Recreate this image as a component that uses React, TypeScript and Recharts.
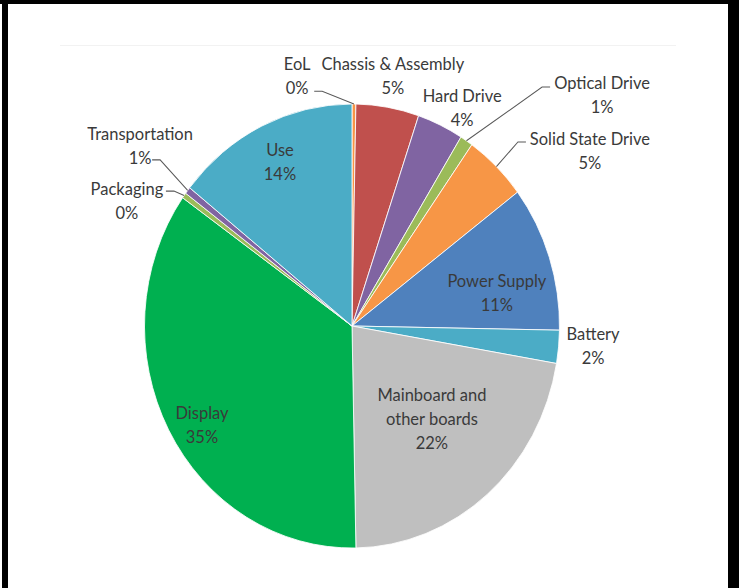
import React from 'react';
import { PieChart, Pie, Cell } from 'recharts';

// slices clockwise from 12 o'clock
const categories = [
  'EoL',
  'Chassis & Assembly',
  'Hard Drive',
  'Optical Drive',
  'Solid State Drive',
  'Power Supply',
  'Battery',
  'Mainboard and other boards',
  'Display',
  'Packaging',
  'Transportation',
  'Use',
];
const shares = [0.3, 4.9, 3.6, 1.0, 4.9, 10.6, 2.4, 22.0, 35.1, 0.4, 0.5, 14.3];
const pctLabels = ['0%', '5%', '4%', '1%', '5%', '11%', '2%', '22%', '35%', '0%', '1%', '14%'];
const labelLines = [
  ['EoL'],
  ['Chassis & Assembly'],
  ['Hard Drive'],
  ['Optical Drive'],
  ['Solid State Drive'],
  ['Power Supply'],
  ['Battery'],
  ['Mainboard and', 'other boards'],
  ['Display'],
  ['Packaging'],
  ['Transportation'],
  ['Use'],
];
const colors = [
  '#F79646', '#C0504D', '#8064A2', '#9BBB59', '#F79646', '#4F81BD',
  '#4BACC6', '#BFBFBF', '#00B050', '#9BBB59', '#8064A2', '#4BACC6',
];

const data = categories.map((name, i) => ({ name, value: shares[i] }));

// label layout: r = fraction of radius, shift = degrees added (clockwise) to the slice mid angle,
// leader = end point of the leader line relative to the label centre
type Place = { r: number; shift: number; leader?: [number, number] };
const placement: Place[] = [
  { r: 1.16, shift: -13.7, leader: [17, 15] },
  { r: 1.145, shift: 0 },
  { r: 1.12, shift: 3.1 },
  { r: 1.595, shift: 15.6, leader: [-52, -6.5] },
  { r: 1.394, shift: 11.25, leader: [-64, -7.5] },
  { r: 0.715, shift: 5.6 },
  { r: 1.165, shift: -1.2 },
  { r: 0.566, shift: -2.2 },
  { r: 0.847, shift: -3.5 },
  { r: 1.224, shift: -8.4, leader: [39, -8.4] },
  { r: 1.307, shift: 1.0, leader: [12, 14] },
  { r: 0.82, shift: 0.7 },
];

const RAD = Math.PI / 180;
const LINE = 22.4;
const TEXT = '#3a3a3a';

const renderLabel = (props: any) => {
  const { cx, cy, midAngle, outerRadius, index } = props;
  const p = placement[index];
  const theta = 90 - midAngle + p.shift; // clockwise from top
  const r = outerRadius * p.r;
  const x = cx + r * Math.sin(theta * RAD);
  const y = cy - r * Math.cos(theta * RAD);
  const lines = [...labelLines[index], pctLabels[index]];
  const top = y - ((lines.length - 1) * LINE) / 2;

  let leader = null;
  if (p.leader) {
    const m = 90 - midAngle;
    const ex = cx + outerRadius * Math.sin(m * RAD);
    const ey = cy - outerRadius * Math.cos(m * RAD);
    const ax = x + p.leader[0];
    const ay = y + p.leader[1];
    const bx = ax + (p.leader[0] > 0 ? 8 : -8);
    leader = (
      <polyline
        points={`${ax},${ay} ${bx},${ay} ${ex},${ey}`}
        fill="none"
        stroke="#595959"
        strokeWidth={1}
      />
    );
  }

  return (
    <g key={`lbl-${index}`}>
      {leader}
      <text
        x={x}
        y={top}
        textAnchor="middle"
        fill={TEXT}
        fontFamily="Lato, 'Noto Sans', sans-serif"
        fontSize={16.5}
      >
        {lines.map((t, i) => (
          <tspan key={i} x={x} y={top + i * LINE} dominantBaseline="central">
            {t}
          </tspan>
        ))}
      </text>
    </g>
  );
};

const bar = (left: number, top: number, width: number, height: number, bg: string) => (
  <div style={{ position: 'absolute', left, top, width, height, background: bg }} />
);

export default function App() {
  return (
    <div
      style={{
        position: 'absolute',
        left: 0,
        top: 0,
        width: 739,
        height: 588,
        background: '#fff',
        overflow: 'hidden',
      }}
    >
      {bar(60, 45, 616, 1, '#f2f2f2')}
      <div
        style={{
          position: 'absolute',
          left: 0,
          top: 0,
          transform: 'scaleY(1.07)',
          transformOrigin: '0 326px',
        }}
      >
        <PieChart width={739} height={588}>
          <Pie
            data={data}
            dataKey="value"
            nameKey="name"
            cx={347}
            cy={321}
            outerRadius={207.5}
            startAngle={90}
            endAngle={-270}
            stroke="#ffffff"
            strokeWidth={0.8}
            label={renderLabel}
            labelLine={false}
            isAnimationActive={false}
          >
            {data.map((d, i) => (
              <Cell key={d.name} fill={colors[i]} />
            ))}
          </Pie>
        </PieChart>
      </div>
      {bar(0, 0, 739, 4, '#000')}
      {bar(2, 0, 6, 588, '#000')}
      {bar(728, 0, 11, 588, '#000')}
    </div>
  );
}
